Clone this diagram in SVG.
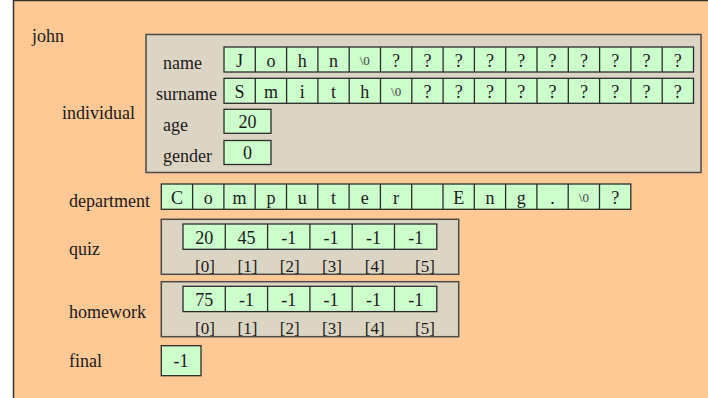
<svg xmlns="http://www.w3.org/2000/svg" width="708" height="398" viewBox="0 0 708 398">
<style>
text{font-family:"Liberation Serif","Times New Roman",serif;font-size:18px;fill:#1a1a1a}
.c{fill:#ccffcc;stroke:#2b2b2b;stroke-width:1.3}
.box{fill:#ddd5c3;stroke:#4a4a4a;stroke-width:1.5}
.m{text-anchor:middle}
.z{font-size:13px;fill:#444}
.i{font-size:17px}
</style>
<g id="john">
<rect x="13.5" y="0.5" width="700" height="402" fill="#ffc996" stroke="#333" stroke-width="1.5"/>
<text x="32" y="42">john</text>
</g>
<g id="individual">
<rect class="box" x="146" y="34.5" width="555" height="138"/>
<text x="62" y="119">individual</text>
<text x="163" y="69">name</text>
<text x="156" y="100">surname</text>
<text x="163" y="131">age</text>
<text x="163" y="162">gender</text>
<g id="name">
<rect class="c" x="224" y="47" width="469.5" height="25"/>
<path d="M255.3 47v25M286.6 47v25M317.9 47v25M349.2 47v25M380.5 47v25M411.8 47v25M443.1 47v25M474.4 47v25M505.7 47v25M537 47v25M568.3 47v25M599.6 47v25M630.9 47v25M662.2 47v25" stroke="#2b2b2b" stroke-width="1.3"/>
<g class="m">
<text x="239.6" y="67">J</text><text x="270.9" y="67">o</text><text x="302.2" y="67">h</text><text x="333.5" y="67">n</text>
<text class="z" x="364.8" y="65">\0</text>
<text x="396.1" y="67">?</text><text x="427.4" y="67">?</text><text x="458.7" y="67">?</text><text x="490" y="67">?</text><text x="521.3" y="67">?</text><text x="552.6" y="67">?</text><text x="583.9" y="67">?</text><text x="615.2" y="67">?</text><text x="646.5" y="67">?</text><text x="677.8" y="67">?</text>
</g>
</g>
<g id="surname">
<rect class="c" x="224" y="78.3" width="469.5" height="25"/>
<path d="M255.3 78.3v25M286.6 78.3v25M317.9 78.3v25M349.2 78.3v25M380.5 78.3v25M411.8 78.3v25M443.1 78.3v25M474.4 78.3v25M505.7 78.3v25M537 78.3v25M568.3 78.3v25M599.6 78.3v25M630.9 78.3v25M662.2 78.3v25" stroke="#2b2b2b" stroke-width="1.3"/>
<g class="m">
<text x="239.6" y="98">S</text><text x="270.9" y="98">m</text><text x="302.2" y="98">i</text><text x="333.5" y="98">t</text><text x="364.8" y="98">h</text>
<text class="z" x="396.1" y="96">\0</text>
<text x="427.4" y="98">?</text><text x="458.7" y="98">?</text><text x="490" y="98">?</text><text x="521.3" y="98">?</text><text x="552.6" y="98">?</text><text x="583.9" y="98">?</text><text x="615.2" y="98">?</text><text x="646.5" y="98">?</text><text x="677.8" y="98">?</text>
</g>
</g>
<g id="age">
<rect class="c" x="224" y="109.3" width="47" height="24"/>
<text class="m" x="247.5" y="128">20</text>
</g>
<g id="gender">
<rect class="c" x="224" y="140.5" width="47" height="24"/>
<text class="m" x="247.5" y="159">0</text>
</g>
</g>
<g id="department">
<text x="69" y="207">department</text>
<rect class="c" x="161.3" y="184" width="469.5" height="25.3"/>
<path d="M192.6 184v25.3M223.9 184v25.3M255.2 184v25.3M286.5 184v25.3M317.8 184v25.3M349.1 184v25.3M380.4 184v25.3M411.7 184v25.3M443 184v25.3M474.3 184v25.3M505.6 184v25.3M536.9 184v25.3M568.2 184v25.3M599.5 184v25.3" stroke="#2b2b2b" stroke-width="1.3"/>
<g class="m">
<text x="177" y="204">C</text><text x="208.3" y="204">o</text><text x="239.6" y="204">m</text><text x="270.9" y="204">p</text><text x="302.2" y="204">u</text><text x="333.5" y="204">t</text><text x="364.8" y="204">e</text><text x="396.1" y="204">r</text>
<text x="458.7" y="204">E</text><text x="490" y="204">n</text><text x="521.3" y="204">g</text><text x="552.6" y="204">.</text>
<text class="z" x="583.9" y="202">\0</text>
<text x="615.2" y="204">?</text>
</g>
</g>
<g id="quiz">
<text x="69" y="255">quiz</text>
<rect class="box" x="161.3" y="219.3" width="297.4" height="55"/>
<rect class="c" x="183" y="224" width="253.8" height="25.3"/>
<path d="M225.3 224v25.3M267.6 224v25.3M309.9 224v25.3M352.2 224v25.3M394.5 224v25.3" stroke="#2b2b2b" stroke-width="1.3"/>
<g class="m">
<text x="204.2" y="244">20</text><text x="246.5" y="244">45</text><text x="288.8" y="244">-1</text><text x="331.1" y="244">-1</text><text x="373.4" y="244">-1</text><text x="415.7" y="244">-1</text>
<text class="i" x="205" y="271.5">[0]</text><text class="i" x="247.5" y="271.5">[1]</text><text class="i" x="289.7" y="271.5">[2]</text><text class="i" x="332" y="271.5">[3]</text><text class="i" x="374.7" y="271.5">[4]</text><text class="i" x="425" y="271.5">[5]</text>
</g>
</g>
<g id="homework">
<text x="69" y="318">homework</text>
<rect class="box" x="161.3" y="281.7" width="297.4" height="55"/>
<rect class="c" x="183" y="286.3" width="253.8" height="25.3"/>
<path d="M225.3 286.3v25.3M267.6 286.3v25.3M309.9 286.3v25.3M352.2 286.3v25.3M394.5 286.3v25.3" stroke="#2b2b2b" stroke-width="1.3"/>
<g class="m">
<text x="204.2" y="306">75</text><text x="246.5" y="306">-1</text><text x="288.8" y="306">-1</text><text x="331.1" y="306">-1</text><text x="373.4" y="306">-1</text><text x="415.7" y="306">-1</text>
<text class="i" x="205" y="334">[0]</text><text class="i" x="247.5" y="334">[1]</text><text class="i" x="289.7" y="334">[2]</text><text class="i" x="332" y="334">[3]</text><text class="i" x="374.7" y="334">[4]</text><text class="i" x="425" y="334">[5]</text>
</g>
</g>
<g id="final">
<text x="69" y="367">final</text>
<rect class="c" x="161.3" y="345.7" width="39.7" height="30"/>
<text class="m" x="181" y="367">-1</text>
</g>
</svg>
